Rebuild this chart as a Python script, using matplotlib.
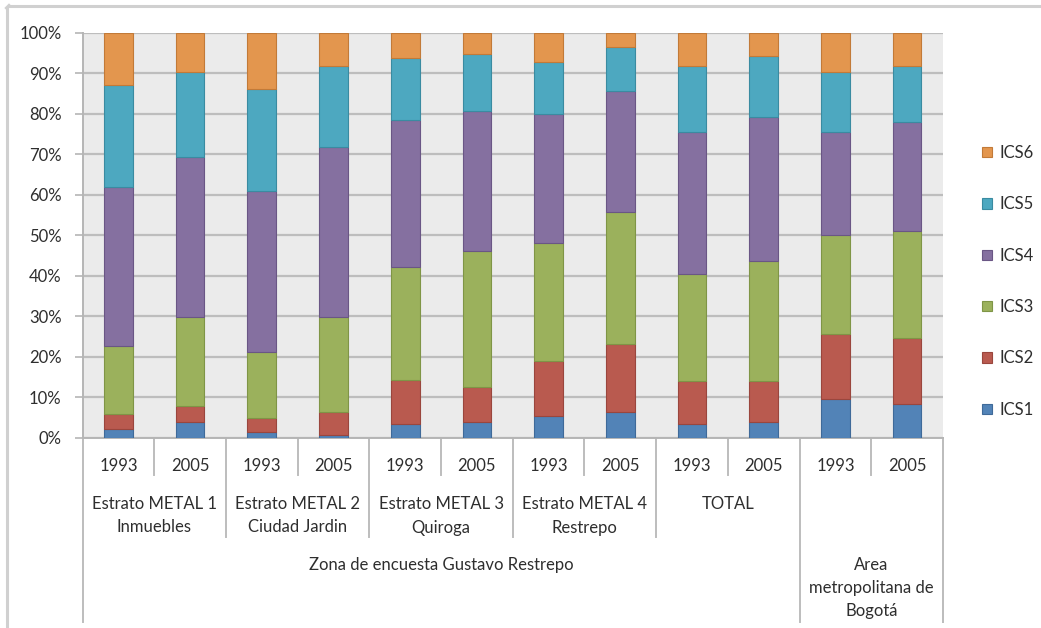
import matplotlib
matplotlib.use("Agg")
import matplotlib.pyplot as plt
import matplotlib.transforms as mtransforms
from matplotlib.patches import Patch
from matplotlib.lines import Line2D
import numpy as np

plt.rcParams['font.family'] = ['Lato', 'DejaVu Sans']

# ---------------- data ----------------
years = ["1993", "2005"] * 6
groups = ["Estrato METAL 1\nInmuebles", "Estrato METAL 2\nCiudad Jardin",
          "Estrato METAL 3\nQuiroga", "Estrato METAL 4\nRestrepo", "TOTAL", ""]
zones = ["Zona de encuesta Gustavo Restrepo", "Area\nmetropolitana de\nBogotá"]
zone_span = [10, 2]  # number of bars per zone

series_names = ["ICS1", "ICS2", "ICS3", "ICS4", "ICS5", "ICS6"]
ics1 = [2.0, 3.9, 1.4, 0.6, 3.3, 3.9, 5.3, 6.3, 3.3, 3.9, 9.6, 8.2]
ics2 = [3.9, 3.8, 3.5, 5.7, 10.9, 8.6, 13.6, 16.8, 10.7, 10.1, 15.9, 16.4]
ics3 = [16.8, 22.1, 16.3, 23.5, 28.0, 33.6, 29.2, 32.7, 26.4, 29.7, 24.5, 26.4]
ics4 = [39.2, 39.6, 39.8, 41.9, 36.2, 34.6, 31.7, 29.8, 35.1, 35.5, 25.5, 27.0]
ics5 = [25.2, 21.0, 25.1, 20.1, 15.3, 14.0, 13.0, 10.9, 16.3, 15.0, 14.9, 13.8]
ics6 = [12.9, 9.6, 13.9, 8.2, 6.3, 5.3, 7.2, 3.5, 8.2, 5.8, 9.6, 8.2]
series = [ics1, ics2, ics3, ics4, ics5, ics6]

colors = ["#5283B7", "#B95A4F", "#9BB15C", "#8570A0", "#4DA8C0", "#E3964E"]
edges = ["#3F6A99", "#9A463D", "#7F9546", "#6A5685", "#3A8BA1", "#C27A38"]

# ---------------- figure ----------------
W, H = 1041, 628
fig = plt.figure(figsize=(W / 100, H / 100), dpi=100)
fig.patch.set_facecolor("white")

left_px, right_px, top_px, bot_px = 82.5, 943, 32.7, 437.5
ax = fig.add_axes([left_px / W, 1 - bot_px / H, (right_px - left_px) / W, (bot_px - top_px) / H])
ax.set_facecolor("#EBEBEB")

FS = 12
TXT = "#2E2E2E"

# normalise to 100 %
data = np.array(series, dtype=float)
data = data / data.sum(axis=0) * 100
x = np.arange(len(years))
bottom = np.zeros(len(years))
for vals, name, c, e in zip(data, series_names, colors, edges):
    ax.bar(x, vals, width=0.4, bottom=bottom, color=c, edgecolor=e, linewidth=0.8,
           label=name, zorder=3)
    bottom += vals

ax.set_xlim(-0.5, len(years) - 0.5)
ax.set_ylim(0, 100)
ax.set_yticks(np.arange(0, 101, 10))
ax.set_yticklabels([f"{v}%" for v in range(0, 101, 10)])
ax.yaxis.grid(True, color="#BDBDBD", linewidth=1.6, zorder=0)
ax.set_axisbelow(True)
ax.tick_params(axis="y", length=6, width=1.2, color="#B5B5B5", pad=9,
               labelsize=FS, labelcolor=TXT)
ax.set_xticks([])
for s in ["top", "right"]:
    ax.spines[s].set_visible(False)
for s in ["left", "bottom"]:
    ax.spines[s].set_color("#B5B5B5")
    ax.spines[s].set_linewidth(1.4)

# ---------------- multi-level category axis ----------------
trans = mtransforms.blended_transform_factory(ax.transData, ax.transAxes)
def yf(px):
    return (bot_px - px) / (bot_px - top_px)

sep_kw = dict(color="#BDBDBD", linewidth=1.4, transform=trans, clip_on=False)
txt_kw = dict(transform=trans, ha="center", va="center", fontsize=FS, color=TXT)

# year labels
for i, yr in enumerate(years):
    ax.text(i, yf(466), yr, **txt_kw)

# separators
n = len(years)
zone_edges = np.concatenate([[0], np.cumsum(zone_span)]) - 0.5
group_edges = np.arange(0, n + 1, 2) - 0.5
for b in np.arange(-0.5, n, 1.0):
    if np.any(np.isclose(b, zone_edges)):
        y_end = 622
    elif np.any(np.isclose(b, group_edges)) and b < zone_edges[1]:
        y_end = 537
    else:
        y_end = 475
    ax.add_line(Line2D([b, b], [0, yf(y_end)], **sep_kw))
ax.add_line(Line2D([n - 0.5, n - 0.5], [0, yf(622)], **sep_kw))

# group labels
for g, lab in enumerate(groups):
    xc = 2 * g + 0.5
    for k, line in enumerate(lab.split("\n") if lab else []):
        ax.text(xc, yf(504 + 23.5 * k), line, **txt_kw)

# zone labels
for z, lab in enumerate(zones):
    xc = (zone_edges[z] + zone_edges[z + 1]) / 2
    for k, line in enumerate(lab.split("\n")):
        ax.text(xc, yf(565 + 23 * k), line, **txt_kw)

# ---------------- legend ----------------
handles = [Patch(facecolor=c, edgecolor=e, linewidth=0.8) for c, e in zip(colors, edges)]
leg = fig.legend(handles[::-1], series_names[::-1], loc="upper left",
                 bbox_to_anchor=(982 / W, 1 - 145 / H), frameon=False,
                 fontsize=FS, labelspacing=2.12, handlelength=0.6, handleheight=0.6,
                 handletextpad=0.45, borderpad=0, borderaxespad=0)
for t in leg.get_texts():
    t.set_color(TXT)

# ---------------- outer chart border ----------------
fig.add_artist(Line2D([6.5 / W, 6.5 / W], [0, 1 - 8 / H], transform=fig.transFigure,
                      color="#D0D0D0", linewidth=2.2))
fig.add_artist(Line2D([9 / W, 1], [1 - 5.5 / H, 1 - 5.5 / H], transform=fig.transFigure,
                      color="#D0D0D0", linewidth=2.2))
fig.add_artist(Line2D([6.5 / W, 9 / W], [1 - 8 / H, 1 - 5.5 / H], transform=fig.transFigure,
                      color="#D0D0D0", linewidth=2.2))

fig.savefig("out.png", dpi=100, facecolor="white")
